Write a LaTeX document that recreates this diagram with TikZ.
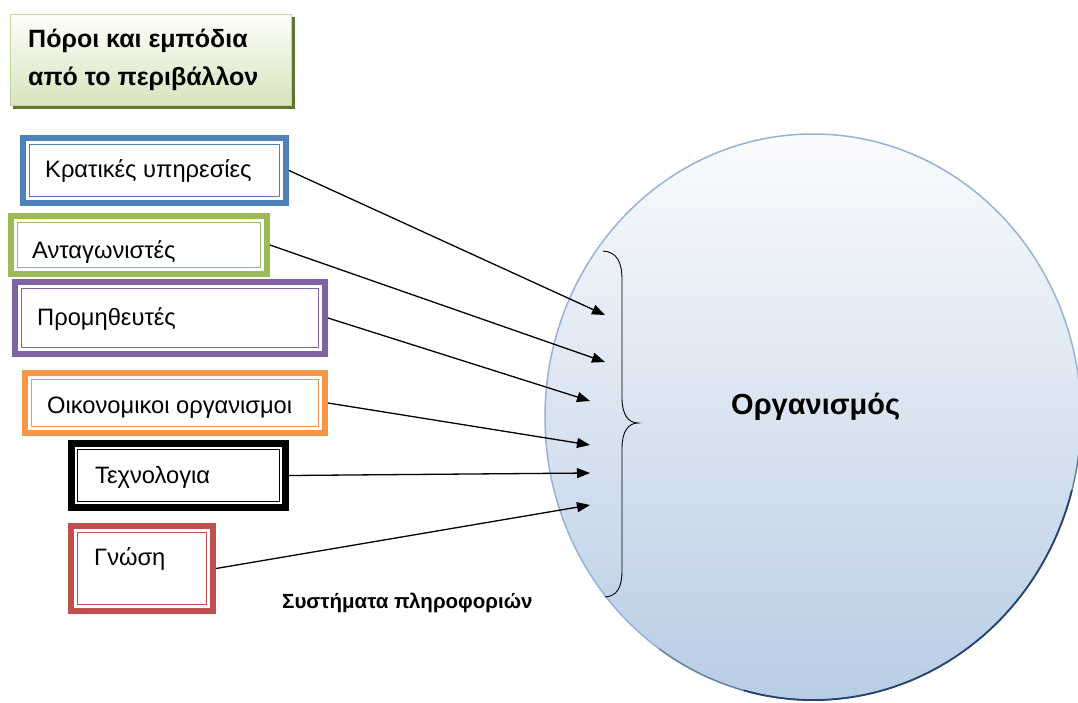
\documentclass[tikz,border=0pt]{standalone}
\usepackage{fontspec}
\setmainfont{Liberation Sans}
\usetikzlibrary{arrows.meta}
\definecolor{kblue}{HTML}{4F81BD}
\definecolor{kgreen}{HTML}{9BBB59}
\definecolor{kpurple}{HTML}{8064A2}
\definecolor{korange}{HTML}{F79646}
\definecolor{kred}{HTML}{C0504D}
\definecolor{ttlborder}{HTML}{C3D69B}
\definecolor{ttlshadow}{HTML}{5F7530}
\definecolor{ttltop}{HTML}{FDFEFB}
\definecolor{ttlbot}{HTML}{D7E4BD}
\definecolor{orgtop}{HTML}{FAFBFD}
\definecolor{orgbot}{HTML}{B9CDE5}
\definecolor{orgedge}{HTML}{95B3D7}
\definecolor{orgdark}{HTML}{24456E}
\begin{document}
\begin{tikzpicture}[x=1pt,y=-1pt,
  framebox/.style={rectangle, draw=#1, line width=6pt, fill=white, inner sep=0pt},
  innerline/.style={draw=#1, line width=1.5pt},
  lbl/.style={anchor=base west, inner sep=0pt, font=\fontsize{23.7}{28}\selectfont},
  ttltext/.style={anchor=base west, inner sep=0pt, font=\fontsize{25}{30}\selectfont\bfseries},
  orgtext/.style={anchor=base west, inner sep=0pt, font=\fontsize{29}{34}\selectfont\bfseries},
  systext/.style={anchor=base west, inner sep=0pt, font=\fontsize{20.5}{24}\selectfont\bfseries},
  flow/.style={line width=1.3pt, -{Triangle[length=13pt,width=10pt]}},
]
\useasboundingbox (0,0) rectangle (1078,702);

% the organisation
\path[draw=orgedge, line width=1.5pt, top color=orgtop, bottom color=orgbot]
  (813,417) ellipse [x radius=268pt, y radius=283pt];
\draw[orgdark!70, line width=1.2pt] (1081,417) arc[start angle=0, end angle=-125, x radius=268pt, y radius=283pt];
\draw[orgdark, line width=1.8pt] (813,417) ++(-15:268pt and 283pt) arc[start angle=-15, end angle=-105, x radius=268pt, y radius=283pt];
\node[orgtext] (orgl) at (731,414) {Οργανισμός};

% brace collecting the inputs
\draw[line width=0.9pt] (603,251) .. controls (617,252) and (622,262) .. (622,280)
  -- (622,398) .. controls (622,414) and (628,423) .. (638,423)
  .. controls (628,423) and (622,432) .. (622,448)
  -- (622,570) .. controls (622,588) and (617,596) .. (605,597);

% title box
\fill[ttlshadow] (13,17) rectangle (295,109);
\node[draw=ttlborder, line width=1.5pt, top color=ttltop, bottom color=ttlbot,
  minimum width=281pt, minimum height=91pt, inner sep=0pt] (ttl) at (151,60) {};
\node[ttltext] (ttl1) at (28,47) {Πόροι και εμπόδια};
\node[ttltext] (ttl2) at (28,85) {από το περιβάλλον};

% environment boxes
\node[framebox=kblue, minimum width=263pt, minimum height=65pt] (kr) at (154.5,170.5) {};
\node[framebox=kgreen, minimum width=256pt, minimum height=58pt] (an) at (139,245) {};
\node[framebox=kpurple, minimum width=310pt, minimum height=72pt] (pr) at (170,318) {};
\node[framebox=korange, minimum width=300pt, minimum height=60pt] (oi) at (175,403) {};
\node[framebox=black, line width=7pt, minimum width=214pt, minimum height=64pt] (te) at (178.5,475.5) {};
\node[framebox=kred, minimum width=142pt, minimum height=85pt] (gn) at (142,568.5) {};

\foreach \n/\c in {kr/kblue, an/kgreen, pr/kpurple, oi/korange, te/black, gn/kred}
  \draw[innerline=\c] ([shift={(9.5,9.5)}]\n.north west) rectangle ([shift={(-9.5,-9.5)}]\n.south east);

\node[lbl] (krt) at (45,177) {Κρατικές υπηρεσίες};
\node[lbl] (ant) at (32,258) {Ανταγωνιστές};
\node[lbl] (prt) at (37,325) {Προμηθευτές};
\node[lbl] (oit) at (47,413) {Οικονομικοι οργανισμοι};
\node[lbl] (tet) at (95,483) {Τεχνολογια};
\node[lbl] (gnt) at (94,565) {Γνώση};

\node[systext] (sys) at (282,608) {Συστήματα πληροφοριών};

% arrows into the organisation
\coordinate (a1) at (605,315);
\coordinate (a2) at (605,362);
\coordinate (a3) at (590,401);
\coordinate (a4) at (590,445);
\coordinate (a5) at (590,473);
\coordinate (a6) at (590,505);
\draw[flow] (kr.east) -- (a1);
\draw[flow] (an.east) -- (a2);
\draw[flow] (pr.east) -- (a3);
\draw[flow] (oi.east) -- (a4);
\draw[flow] (te.east) -- (a5);
\draw[flow] (gn.east) -- (a6);
\end{tikzpicture}
\end{document}
